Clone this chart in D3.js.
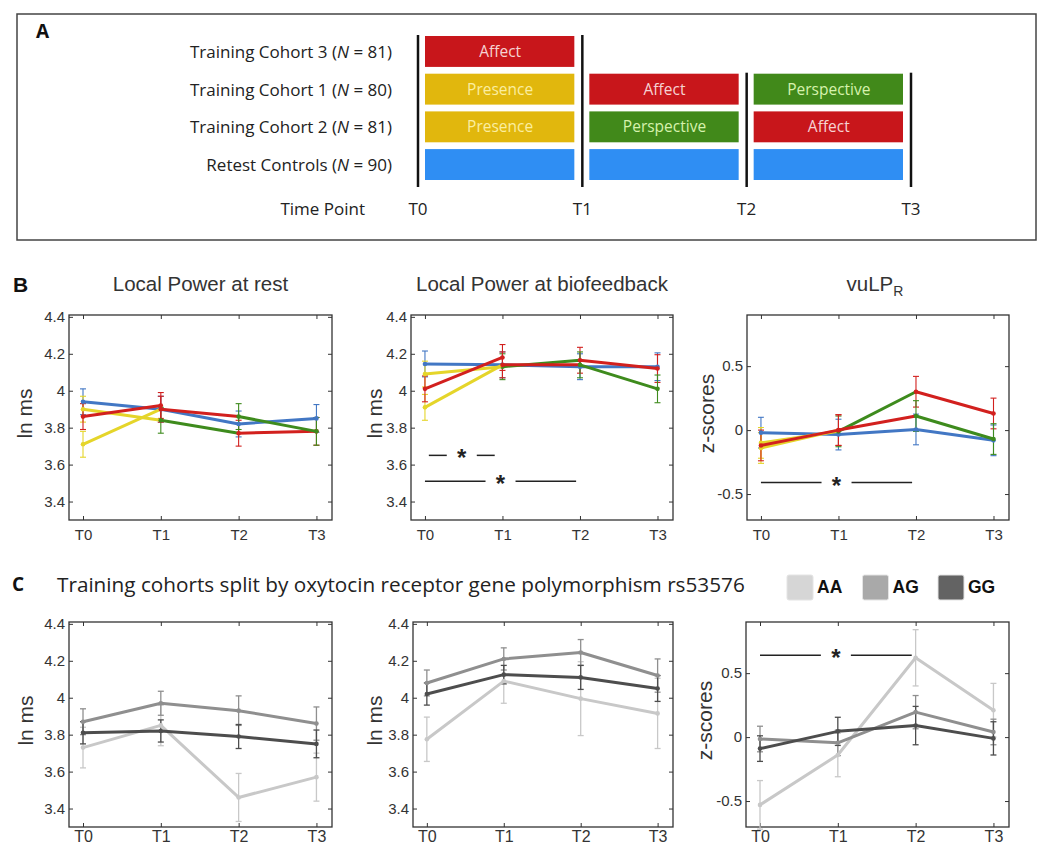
<!DOCTYPE html>
<html>
<head>
<meta charset="utf-8">
<script src="https://d3js.org/d3.v7.min.js"></script>
<style>
  body { margin: 0; background: #fff; }
  svg { display: block; }
</style>
</head>
<body>
<svg id="fig" width="1053" height="848"></svg>
<script>
// ---- data ----
const timePoints = ["T0", "T1", "T2", "T3"];

// panel A: study design
const cohortNames = ["Training Cohort 3", "Training Cohort 1", "Training Cohort 2", "Retest Controls"];
const cohortN = [81, 80, 81, 90];
const cohortModules = [
  ["Affect"],
  ["Presence", "Affect", "Perspective"],
  ["Presence", "Perspective", "Affect"],
  ["Control", "Control", "Control"]
];

// panel B: local power at rest (ln ms)
const restCohort3 = [3.86, 3.92];
const restCohort1 = [3.71, 3.90, 3.86, 3.78];
const restCohort2 = [3.90, 3.84, 3.77, 3.78];
const restControls = [3.94, 3.90, 3.82, 3.85];
const restErr = [0.07, 0.07, 0.07, 0.075];

// panel B: local power at biofeedback (ln ms)
const bioCohort3 = [4.01, 4.18];
const bioCohort1 = [3.91, 4.14, 4.14, 4.01];
const bioCohort2 = [4.09, 4.13, 4.165, 4.12];
const bioControls = [4.145, 4.14, 4.13, 4.13];
const bioErr = [0.07, 0.07, 0.07, 0.075];
const bioSig = [{ y: 3.65, from: 0.05, to: 0.9 }, { y: 3.51, from: 0, to: 1.95 }];

// panel B: vuLPR (z-scores)
const vuCohort3 = [-0.12, 0.0];
const vuCohort1 = [-0.14, 0.0, 0.11, -0.07];
const vuCohort2 = [-0.10, -0.01, 0.30, 0.13];
const vuControls = [-0.02, -0.035, 0.005, -0.08];
const vuErr = [0.12, 0.12, 0.12, 0.12];
const vuSig = [{ y: -0.41, from: 0, to: 1.95 }];

// panel C: split by OXTR rs53576 genotype
const genotypes = ["AA", "AG", "GG"];
const restAA = [3.73, 3.85, 3.46, 3.57];
const restAG = [3.87, 3.97, 3.93, 3.86];
const restGG = [3.81, 3.82, 3.79, 3.75];
const restAAErr = [0.11, 0.11, 0.13, 0.13];
const restAGErr = [0.07, 0.065, 0.08, 0.09];
const restGGErr = [0.06, 0.06, 0.065, 0.075];
const bioAA = [3.775, 4.09, 3.995, 3.915];
const bioAG = [4.08, 4.21, 4.245, 4.12];
const bioGG = [4.02, 4.125, 4.11, 4.05];
const bioAAErr = [0.12, 0.12, 0.2, 0.19];
const bioAGErr = [0.07, 0.06, 0.07, 0.09];
const bioGGErr = [0.06, 0.05, 0.065, 0.07];
const vuAA = [-0.53, -0.14, 0.62, 0.21];
const vuAG = [-0.015, -0.045, 0.195, 0.04];
const vuGG = [-0.09, 0.045, 0.09, -0.01];
const vuAAErr = [0.19, 0.17, 0.22, 0.21];
const vuAGErr = [0.1, 0.1, 0.13, 0.1];
const vuGGErr = [0.1, 0.11, 0.15, 0.13];
const vuGenoSig = [{ y: 0.64, from: 0, to: 1.95 }];

// ---- styles ----
const boxColors = { Presence: "#e1b70d", Affect: "#c8161b", Perspective: "#41891a", Control: "#2f8ef3" };
const boxText = { Presence: "#fbeea0", Affect: "#f6d2d2", Perspective: "#d6f2ad", Control: "#fff" };
const lineColors = { Presence: "#e5d52a", Affect: "#d2201e", Perspective: "#3e8b1d", Control: "#4277c4" };
const genoColors = { AA: "#c8c8c8", AG: "#8f8f8f", GG: "#4d4d4d" };
const swatchColors = { AA: "#d6d6d6", AG: "#a9a9a9", GG: "#636363" };

const sansA = "'Open Sans', 'Noto Sans', sans-serif";
const arial = "'Liberation Sans', Arial, sans-serif";

const svg = d3.select("#fig");

// squeeze text horizontally about its anchor x
function squeeze(sel, k) {
  sel.each(function () {
    const ax = +d3.select(this).attr("x");
    d3.select(this).attr("transform", `translate(${ax * (1 - k)},0) scale(${k},1)`);
  });
}

// ---- panel A ----
const A = svg.append("g");
A.append("rect").attr("x", 17).attr("y", 14).attr("width", 1019).attr("height", 226)
  .attr("fill", "none").attr("stroke", "#444").attr("stroke-width", 1.5);
A.append("text").attr("x", 36).attr("y", 38).text("A")
  .attr("font-family", sansA).attr("font-weight", 700).attr("font-size", 19).attr("fill", "#111");

const ax = d3.scaleLinear().domain([0, 3]).range([418, 911]);
const ay = d3.scaleBand().domain(cohortNames).range([36, 180]).paddingInner(0.18);

const labels = A.selectAll("text.cohort").data(cohortNames).join("text")
  .attr("class", "cohort")
  .attr("x", 392).attr("y", d => ay(d) + ay.bandwidth() / 2 + 6.5)
  .attr("text-anchor", "end").attr("font-family", sansA).attr("font-size", 17).attr("fill", "#222");
labels.append("tspan").text(d => d + " (");
labels.append("tspan").attr("font-style", "italic").text("N");
labels.append("tspan").text((d, i) => " = " + cohortN[i] + ")");
const kA = 202 / labels.node().getComputedTextLength();
squeeze(labels, kA);

cohortModules.forEach((mods, r) => {
  const row = cohortNames[r];
  mods.forEach((m, i) => {
    A.append("rect").attr("x", ax(i) + 7).attr("y", ay(row))
      .attr("width", ax(i + 1) - ax(i) - 15).attr("height", ay.bandwidth())
      .attr("fill", boxColors[m]);
    if (m !== "Control") {
      const t = A.append("text").attr("x", (ax(i) + ax(i + 1)) / 2).attr("y", ay(row) + ay.bandwidth() / 2 + 5.5)
        .attr("text-anchor", "middle").attr("font-family", sansA).attr("font-size", 15.5)
        .attr("fill", boxText[m]).text(m);
      squeeze(t, kA);
    }
  });
});

timePoints.forEach((tp, i) => {
  const rows = cohortModules.map((mods, r) => (mods[i - 1] || mods[i]) ? r : 99);
  const top = ay(cohortNames[d3.min(rows)]) - 1;
  A.append("line").attr("x1", ax(i)).attr("x2", ax(i)).attr("y1", top).attr("y2", 187)
    .attr("stroke", "#111").attr("stroke-width", 2.5);
  const t = A.append("text").attr("x", ax(i)).attr("y", 215).attr("text-anchor", "middle")
    .attr("font-family", sansA).attr("font-size", 17).attr("fill", "#222").text(tp);
  squeeze(t, kA);
});
const tpLab = A.append("text").attr("x", 365).attr("y", 215).attr("text-anchor", "end")
  .attr("font-family", sansA).attr("font-size", 17).attr("fill", "#222").text("Time Point");
squeeze(tpLab, kA);

// ---- plot frames ----
const cols = [[69, 332], [411, 673], [747, 1009]];
const rowB = [315, 520], rowC = [622, 827];
const lnDomain = [3.3, 4.41], lnTicks = [3.4, 3.6, 3.8, 4, 4.2, 4.4];
const zDomain = [-0.703, 0.9], zTicks = [-0.5, 0, 0.5];

function makePlot(col, row, yDomain, yTicks, xPad, xFont, ylabel, ylabOff) {
  const [x0, x1] = col, [y0, y1] = row;
  const x = d3.scaleLinear().domain([-0.18, 3.2]).range([x0, x1]);
  const y = d3.scaleLinear().domain(yDomain).range([y1, y0]);
  const g = svg.append("g");
  g.append("g").attr("transform", `translate(${x0},0)`)
    .call(d3.axisLeft(y).tickValues(yTicks).tickSize(-4).tickPadding(4).tickFormat(d => String(d)))
    .attr("font-size", 15).attr("font-family", arial);
  g.append("g").attr("transform", `translate(${x1},0)`)
    .call(d3.axisRight(y).tickValues(yTicks).tickSize(-4).tickFormat(""));
  g.append("g").attr("transform", `translate(0,${y1})`)
    .call(d3.axisBottom(x).tickValues([0, 1, 2, 3]).tickSize(-4).tickPadding(xPad).tickFormat(i => timePoints[i]))
    .attr("font-size", xFont).attr("font-family", arial);
  g.append("g").attr("transform", `translate(0,${y0})`)
    .call(d3.axisTop(x).tickValues([0, 1, 2, 3]).tickSize(-4).tickFormat(""));
  g.selectAll(".domain").remove();
  g.selectAll(".tick line").attr("stroke", "#333");
  g.selectAll(".tick text").attr("fill", "#333");
  g.append("rect").attr("x", x0).attr("y", y0).attr("width", x1 - x0).attr("height", y1 - y0)
    .attr("fill", "none").attr("stroke", "#333").attr("stroke-width", 1.3);
  g.append("text").attr("transform", `translate(${x0 + ylabOff},${(y0 + y1) / 2 - 4}) rotate(-90)`)
    .attr("text-anchor", "middle").attr("font-family", arial).attr("font-size", 21).attr("fill", "#333")
    .text(ylabel);
  return { x, y, g };
}

function errBars(p, vals, err, colorAt, width) {
  vals.forEach((v, i) => {
    const c = colorAt(i);
    const xx = p.x(i);
    p.g.append("line").attr("x1", xx).attr("x2", xx).attr("y1", p.y(v - err[i])).attr("y2", p.y(v + err[i]))
      .attr("stroke", c).attr("stroke-width", width);
    [v - err[i], v + err[i]].forEach(e => {
      p.g.append("line").attr("x1", xx - 3).attr("x2", xx + 3).attr("y1", p.y(e)).attr("y2", p.y(e))
        .attr("stroke", c).attr("stroke-width", width);
    });
  });
}

function sigMarks(p, sig) {
  sig.forEach(s => {
    const a = p.x(s.from), b = p.x(s.to), m = (a + b) / 2, yy = p.y(s.y);
    [[a, m - 15], [m + 15, b]].forEach(([u, w]) => {
      p.g.append("line").attr("x1", u).attr("x2", w).attr("y1", yy).attr("y2", yy)
        .attr("stroke", "#222").attr("stroke-width", 1.5);
    });
    p.g.append("text").attr("x", m).attr("y", yy + 11).attr("text-anchor", "middle")
      .attr("font-family", arial).attr("font-weight", 700).attr("font-size", 24).attr("fill", "#222").text("*");
  });
}

// ---- panel B ----
function cohortPlot(p, series, err) {
  const colorAt = (mods, i) => lineColors[mods[Math.min(i, mods.length - 1)]];
  series.forEach(s => errBars(p, s.vals, err, i => colorAt(s.mods, i), 1.1));
  series.forEach(s => {
    s.mods.forEach((m, i) => {
      if (i + 1 >= s.vals.length) return;
      p.g.append("line").attr("x1", p.x(i)).attr("x2", p.x(i + 1))
        .attr("y1", p.y(s.vals[i])).attr("y2", p.y(s.vals[i + 1]))
        .attr("stroke", lineColors[m]).attr("stroke-width", 3).attr("stroke-linecap", "round");
    });
    p.g.selectAll(null).data(s.vals).join("circle")
      .attr("cx", (d, i) => p.x(i)).attr("cy", d => p.y(d)).attr("r", 2.3)
      .attr("fill", (d, i) => colorAt(s.mods, i));
  });
}

const seriesOf = (c3, c1, c2, ctl) => [
  { vals: ctl, mods: cohortModules[3] },
  { vals: c2, mods: cohortModules[2] },
  { vals: c1, mods: cohortModules[1] },
  { vals: c3, mods: cohortModules[0] }
];

const pB1 = makePlot(cols[0], rowB, lnDomain, lnTicks, 9, 15, "ln ms", -37);
cohortPlot(pB1, seriesOf(restCohort3, restCohort1, restCohort2, restControls), restErr);
const pB2 = makePlot(cols[1], rowB, lnDomain, lnTicks, 9, 15, "ln ms", -29);
cohortPlot(pB2, seriesOf(bioCohort3, bioCohort1, bioCohort2, bioControls), bioErr);
sigMarks(pB2, bioSig);
const pB3 = makePlot(cols[2], rowB, zDomain, zTicks, 9, 15, "z-scores", -33);
cohortPlot(pB3, seriesOf(vuCohort3, vuCohort1, vuCohort2, vuControls), vuErr);
sigMarks(pB3, vuSig);

svg.append("text").attr("x", 13).attr("y", 292).text("B")
  .attr("font-family", arial).attr("font-weight", 700).attr("font-size", 21).attr("fill", "#111");
const titlesB = [["Local Power at rest"], ["Local Power at biofeedback"]];
titlesB.forEach((t, i) => {
  svg.append("text").attr("x", (cols[i][0] + cols[i][1]) / 2).attr("y", 291).attr("text-anchor", "middle")
    .attr("font-family", arial).attr("font-size", 20.5).attr("fill", "#333").text(t[0]);
});
const vt = svg.append("text").attr("x", (cols[2][0] + cols[2][1]) / 2 - 3).attr("y", 291).attr("text-anchor", "middle")
  .attr("font-family", arial).attr("font-size", 20.5).attr("fill", "#333");
vt.append("tspan").text("vuLP");
vt.append("tspan").attr("font-size", 14).attr("dy", 5).text("R");

// ---- panel C ----
function genoPlot(p, vals, errs) {
  genotypes.forEach((gt, k) => errBars(p, vals[k], errs[k], () => genoColors[gt], 1.3));
  genotypes.forEach((gt, k) => {
    p.g.append("path").datum(vals[k])
      .attr("d", d3.line().x((d, i) => p.x(i)).y(d => p.y(d)))
      .attr("fill", "none").attr("stroke", genoColors[gt]).attr("stroke-width", 3).attr("stroke-linejoin", "round");
    p.g.selectAll(null).data(vals[k]).join("circle")
      .attr("cx", (d, i) => p.x(i)).attr("cy", d => p.y(d)).attr("r", 2.3).attr("fill", genoColors[gt]);
  });
}

const pC1 = makePlot(cols[0], rowC, lnDomain, lnTicks, 4, 16, "ln ms", -36);
genoPlot(pC1, [restAA, restAG, restGG], [restAAErr, restAGErr, restGGErr]);
const pC2 = makePlot([413, 673], rowC, lnDomain, lnTicks, 4, 16, "ln ms", -31);
genoPlot(pC2, [bioAA, bioAG, bioGG], [bioAAErr, bioAGErr, bioGGErr]);
const pC3 = makePlot([746, 1009], rowC, zDomain, zTicks, 4, 16, "z-scores", -34);
genoPlot(pC3, [vuAA, vuAG, vuGG], [vuAAErr, vuAGErr, vuGGErr]);
sigMarks(pC3, vuGenoSig);

svg.append("text").attr("x", 12).attr("y", 591).text("C")
  .attr("font-family", sansA).attr("font-weight", 700).attr("font-size", 19).attr("fill", "#111");
const cTitle = svg.append("text").attr("x", 57).attr("y", 592)
  .attr("font-family", sansA).attr("font-size", 20).attr("fill", "#222")
  .text("Training cohorts split by oxytocin receptor gene polymorphism rs53576");
squeeze(cTitle, 688 / cTitle.node().getComputedTextLength());

const legX = d3.scalePoint().domain(genotypes).range([787, 938]);
const leg = svg.append("g").selectAll("g").data(genotypes).join("g")
  .attr("transform", d => `translate(${legX(d)},575)`);
leg.append("rect").attr("width", 26).attr("height", 25).attr("rx", 2)
  .attr("fill", d => swatchColors[d]).attr("stroke", "#e4e4e4").attr("stroke-width", 1);
leg.append("text").attr("x", 30).attr("y", 18).text(d => d)
  .attr("font-family", arial).attr("font-weight", 700).attr("font-size", 17.5).attr("fill", "#111");
</script>
</body>
</html>
